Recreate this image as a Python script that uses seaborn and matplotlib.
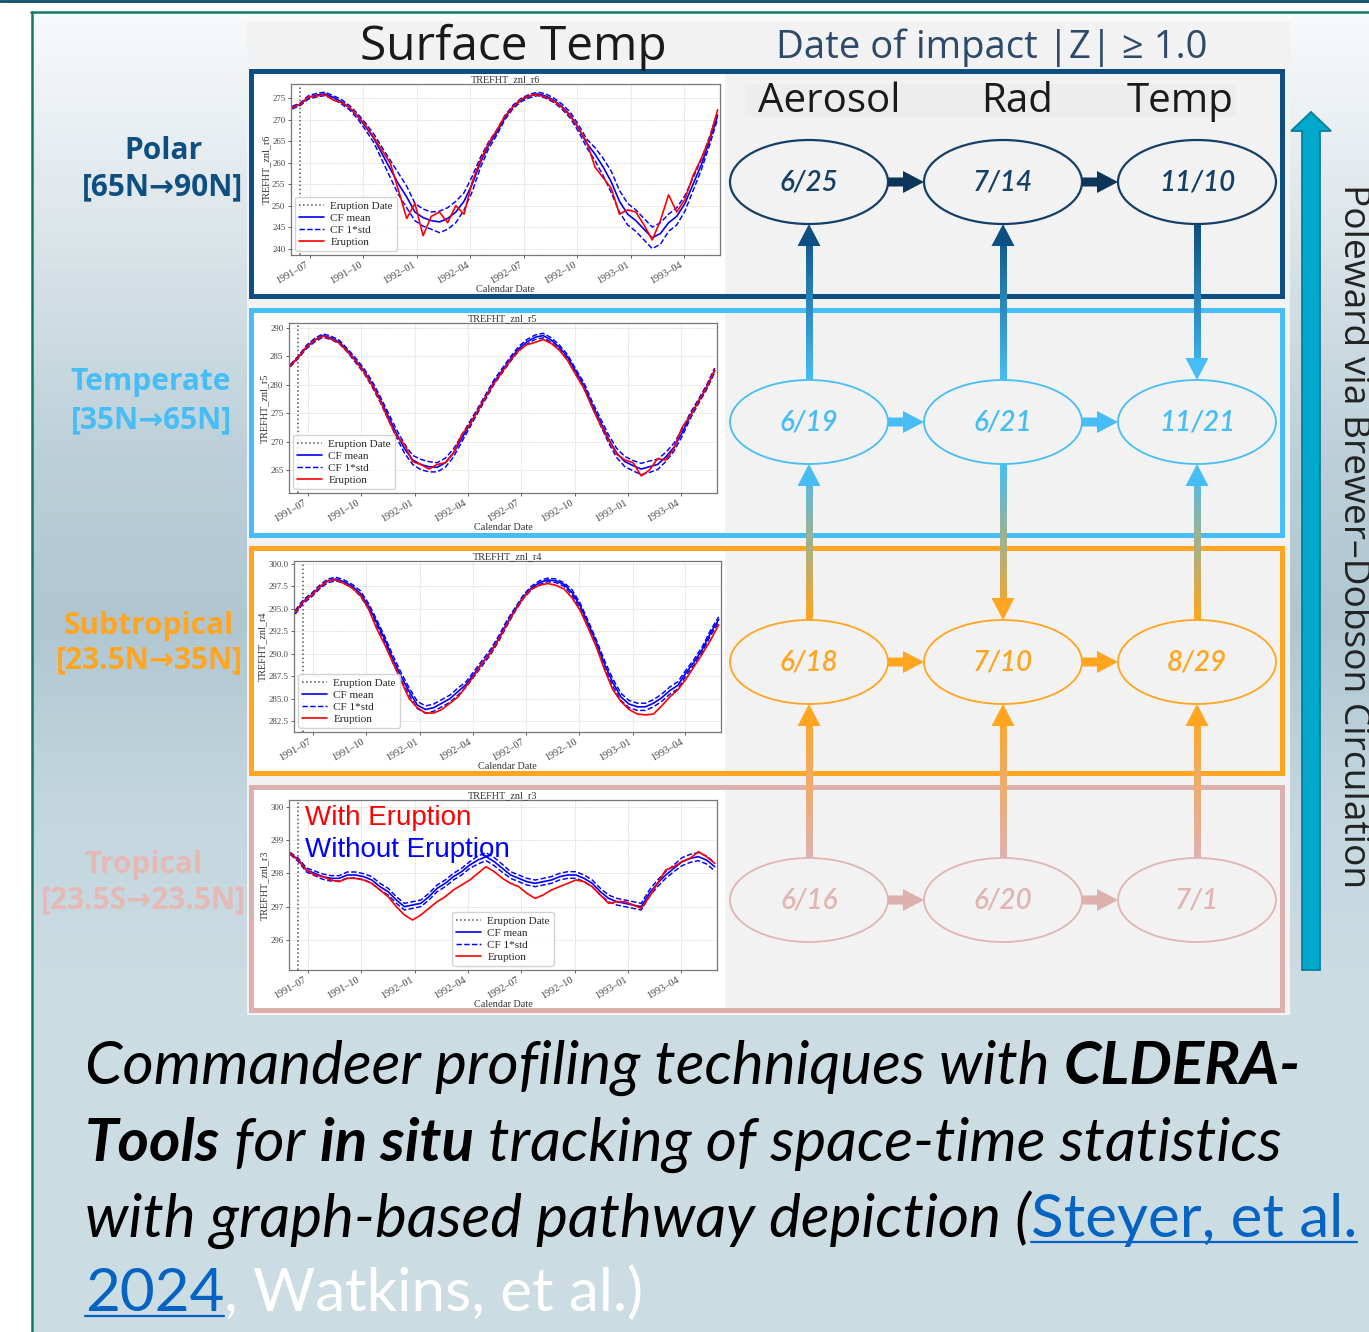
import numpy as np
import pandas as pd
import matplotlib
matplotlib.use("Agg")
import matplotlib.pyplot as plt
import matplotlib.dates as mdates
import matplotlib.ticker as mticker
from matplotlib.patches import Rectangle, Ellipse, Polygon
from matplotlib.colors import LinearSegmentedColormap, to_rgb
import seaborn as sns

# ---------------- data ----------------
sample_dates = pd.date_range("1991-06-01", periods=53, freq="14D")
eruption_date = pd.Timestamp("1991-06-15")
x_start, x_end = pd.Timestamp("1991-05-30"), pd.Timestamp("1993-06-02")

polar_mean = [272.8, 273.6, 275.2, 275.7, 276.0, 275.2, 274.2, 272.8, 270.8, 268.3,
              265.6, 262.0, 258.5, 255.0, 252.0, 248.5, 247.2, 246.5, 246.2, 247.0,
              248.5, 251.0, 255.0, 260.0, 264.0, 267.0, 270.5, 273.0, 274.6, 275.5,
              276.0, 275.5, 274.5, 273.0, 271.0, 268.0, 264.5, 262.0, 259.0, 255.5,
              251.0, 248.0, 246.5, 244.5, 242.5, 243.5, 246.0, 247.5, 250.5, 255.0,
              259.5, 265.0, 271.0]
polar_std = [0.3, 0.3, 0.4, 0.4, 0.4, 0.4, 0.5, 0.5, 0.6, 0.8,
             1.0, 1.5, 2.0, 2.5, 2.5, 2.0, 2.0, 2.0, 2.5, 2.5,
             2.5, 2.0, 1.8, 1.2, 0.8, 0.6, 0.5, 0.4, 0.4, 0.4,
             0.4, 0.5, 0.5, 0.6, 0.7, 0.8, 1.0, 1.5, 2.0, 2.5,
             2.5, 2.5, 2.5, 2.5, 2.5, 2.5, 2.0, 2.0, 1.8, 1.5,
             1.2, 1.0, 0.8]
polar_eru = [272.8, 273.6, 275.3, 275.5, 275.8, 274.6, 274.0, 272.8, 270.8, 268.6,
             265.8, 262.8, 259.8, 253.5, 247.0, 250.5, 243.0, 247.5, 248.5, 246.0,
             250.0, 248.0, 255.5, 260.5, 264.5, 267.5, 270.8, 273.0, 274.8, 275.6,
             275.8, 275.2, 274.3, 272.8, 270.8, 268.0, 264.8, 259.0, 256.5, 254.0,
             248.0, 249.0, 248.5, 245.5, 242.0, 246.5, 252.5, 248.5, 251.5, 257.0,
             261.0, 265.5, 272.3]

temp_mean = [283.3, 284.8, 286.6, 287.8, 288.6, 288.2, 287.5, 286.0, 284.3, 282.5,
             280.2, 277.5, 274.5, 271.5, 268.8, 266.8, 266.0, 265.6, 265.5, 266.3,
             268.0, 270.5, 273.0, 275.5, 278.0, 280.5, 282.5, 284.5, 286.3, 287.5,
             288.3, 288.6, 287.8, 286.5, 284.8, 282.3, 279.8, 276.5, 273.5, 270.5,
             268.0, 266.5, 265.8, 265.2, 265.6, 266.0, 267.3, 269.0, 271.5, 274.5,
             277.0, 279.5, 282.5]
temp_std = [0.2, 0.2, 0.3, 0.3, 0.3, 0.3, 0.3, 0.3, 0.4, 0.4,
            0.5, 0.5, 0.6, 0.7, 0.8, 0.8, 0.9, 0.9, 0.8, 0.8,
            0.7, 0.6, 0.5, 0.4, 0.4, 0.4, 0.4, 0.4, 0.4, 0.4,
            0.4, 0.4, 0.4, 0.4, 0.4, 0.4, 0.5, 0.5, 0.6, 0.7,
            0.8, 0.9, 0.9, 1.0, 1.0, 0.9, 0.8, 0.7, 0.6, 0.5,
            0.4, 0.4, 0.4]
temp_eru = [283.3, 284.8, 286.6, 287.8, 288.5, 288.0, 287.3, 285.8, 284.2, 282.3,
            280.0, 277.3, 274.0, 271.0, 269.5, 266.5, 266.0, 265.2, 266.0, 266.3,
            268.0, 271.2, 273.0, 275.5, 278.0, 280.3, 282.3, 284.3, 286.0, 287.0,
            287.4, 287.9, 287.2, 286.0, 284.2, 281.7, 279.3, 276.0, 273.0, 270.3,
            267.8, 266.8, 266.3, 264.0, 265.0, 267.0, 266.8, 268.8, 272.5, 274.5,
            277.0, 279.5, 282.5]

sub_mean = [294.6, 295.8, 296.5, 297.4, 298.1, 298.3, 298.0, 297.5, 296.7, 295.3,
            293.5, 291.6, 289.4, 287.5, 285.8, 284.3, 283.8, 284.0, 284.5, 285.0,
            285.8, 286.6, 287.8, 289.0, 290.2, 291.7, 293.4, 294.9, 296.3, 297.3,
            297.9, 298.2, 298.1, 297.7, 296.8, 295.3, 293.3, 291.2, 288.8, 286.8,
            285.2, 284.4, 284.1, 284.1, 284.5, 285.1, 285.9, 286.5, 287.9, 289.1,
            290.5, 292.3, 293.8]
sub_std = [0.2, 0.2, 0.2, 0.2, 0.2, 0.2, 0.2, 0.2, 0.3, 0.3,
           0.3, 0.3, 0.4, 0.4, 0.4, 0.4, 0.4, 0.4, 0.4, 0.4,
           0.4, 0.3, 0.3, 0.3, 0.3, 0.3, 0.3, 0.2, 0.2, 0.2,
           0.2, 0.2, 0.2, 0.2, 0.3, 0.3, 0.3, 0.3, 0.4, 0.4,
           0.4, 0.4, 0.4, 0.4, 0.4, 0.4, 0.4, 0.4, 0.3, 0.3,
           0.3, 0.3, 0.3]
sub_eru = [294.6, 295.8, 296.5, 297.4, 298.1, 298.2, 297.8, 297.3, 296.5, 295.0,
           292.8, 291.0, 289.0, 287.0, 285.0, 284.0, 283.4, 283.4, 283.8, 284.5,
           285.2, 286.4, 287.6, 289.0, 290.1, 291.6, 293.3, 294.8, 296.2, 297.2,
           297.6, 297.8, 297.6, 297.2, 296.2, 294.8, 292.8, 290.7, 288.2, 286.0,
           284.7, 283.8, 283.3, 283.2, 283.3, 284.2, 285.2, 286.0, 287.2, 288.6,
           290.0, 291.5, 293.2]

trop_mean = [298.6, 298.4, 298.1, 298.0, 297.9, 297.85, 297.85, 297.95, 297.95, 297.9,
             297.8, 297.6, 297.45, 297.2, 297.0, 297.05, 297.1, 297.3, 297.55, 297.7,
             297.9, 298.05, 298.25, 298.4, 298.5, 298.35, 298.15, 297.95, 297.85, 297.75,
             297.7, 297.75, 297.8, 297.9, 297.95, 297.95, 297.85, 297.7, 297.45, 297.25,
             297.15, 297.1, 297.05, 297.0, 297.4, 297.7, 297.95, 298.15, 298.35, 298.45,
             298.5, 298.4, 298.2]
trop_std = [0.03, 0.05, 0.06, 0.07, 0.08, 0.08, 0.08, 0.09, 0.09, 0.09,
            0.1, 0.1, 0.1, 0.1, 0.1, 0.1, 0.1, 0.1, 0.1, 0.1,
            0.1, 0.1, 0.1, 0.12, 0.12, 0.12, 0.12, 0.1, 0.1, 0.1,
            0.1, 0.1, 0.1, 0.1, 0.1, 0.1, 0.1, 0.1, 0.1, 0.1,
            0.1, 0.1, 0.1, 0.1, 0.1, 0.1, 0.1, 0.1, 0.12, 0.12,
            0.12, 0.12, 0.12]
trop_eru = [298.6, 298.4, 298.1, 297.95, 297.9, 297.8, 297.75, 297.85, 297.85, 297.8,
            297.7, 297.5, 297.3, 297.0, 296.75, 296.6, 296.75, 296.95, 297.15, 297.3,
            297.5, 297.65, 297.8, 298.0, 298.2, 298.05, 297.85, 297.7, 297.6, 297.4,
            297.25, 297.35, 297.5, 297.6, 297.7, 297.8, 297.75, 297.6, 297.35, 297.1,
            297.15, 297.15, 297.05, 296.95, 297.3, 297.7, 298.1, 298.2, 298.35, 298.45,
            298.65, 298.5, 298.3]

regions = ["Polar", "Temperate", "Subtropical", "Tropical"]
region_ranges = ["[65N→90N]", "[35N→65N]", "[23.5N→35N]", "[23.5S→23.5N]"]
chart_titles = ["TREFHT_znl_r6", "TREFHT_znl_r5", "TREFHT_znl_r4", "TREFHT_znl_r3"]
polar_yticks = [240, 245, 250, 255, 260, 265, 270, 275]
temp_yticks = [265, 270, 275, 280, 285, 290]
sub_yticks = [282.5, 285.0, 287.5, 290.0, 292.5, 295.0, 297.5, 300.0]
trop_yticks = [296, 297, 298, 299, 300]

stages = ["Aerosol", "Rad", "Temp"]
aerosol_dates = ["6/25", "6/19", "6/18", "6/16"]
rad_dates = ["7/14", "6/21", "7/10", "6/20"]
temp_dates = ["11/10", "11/21", "8/29", "7/1"]
# direction of the link between row r (upper) and row r+1 (lower), per stage
links = [["up", "up", "down"], ["up", "down", "up"], ["up", "up", "up"]]

# ---------------- style ----------------
sns.set_theme(style="white")
plt.rcParams["font.family"] = ["Liberation Serif", "DejaVu Serif"]
SANS = ["Open Sans", "DejaVu Sans"]
CAPF = ["Lato", "DejaVu Sans"]

W, H = 1369, 1332
fig = plt.figure(figsize=(W / 100, H / 100), dpi=100, facecolor="white")
deco = fig.add_axes([0, 0, 1, 1])
deco.set_axis_off()
deco.set_xlim(0, W)
deco.set_ylim(H, 0)
R = fig.canvas.get_renderer()


def measure(s, **kw):
    t = deco.text(0, 0, s, **kw)
    w = t.get_window_extent(renderer=R).width
    t.remove()
    return w


def run_width(s, **kw):
    return measure("|" + s + "|", **kw) - measure("||", **kw)


def fitted_size(s, target, base=30, **kw):
    return base * target / measure(s, fontsize=base, **kw)


# background
bg_cmap = LinearSegmentedColormap.from_list(
    "bg", [(0, "#f8fafb"), (0.14, "#e0e8ec"), (0.33, "#bdd0d9"), (0.46, "#afc6d1"),
           (0.6, "#c3d6de"), (0.75, "#ccdce3"), (1, "#ccdce3")])
deco.imshow(np.linspace(0, 1, 400).reshape(-1, 1), cmap=bg_cmap,
            extent=(32, W, H, 12), aspect="auto", zorder=0)
deco.plot([0, W], [1, 1], color="#0b4f6c", lw=2, zorder=1)
deco.plot([31, W], [12, 12], color="#127a62", lw=1.8, zorder=1)
deco.plot([32, 32], [12, H], color="#127a62", lw=1.8, zorder=1)

# central gray panel
deco.add_patch(Rectangle((247, 22), 1043, 993, fc="#f2f2f2", ec="none", zorder=1))
deco.add_patch(Rectangle((745, 84), 491, 33, fc="#ededed", ec="none", zorder=1))

box_colors = ["#0d4f80", "#47bdf5", "#ffa51f", "#dcb0ad"]
label_colors = ["#0d4f80", "#47bdf5", "#ffa51f", "#e6b9b5"]
node_colors = ["#143f66", "#47bdf5", "#ffa51f", "#e0b5b2"]
harrow_colors = ["#0d3559", "#47bdf5", "#ffa51f", "#dcb0ad"]
box_tops = [68, 307, 545, 784]
box_bots = [298, 537, 775, 1012]

for i in range(4):
    t, b = box_tops[i], box_bots[i]
    deco.add_patch(Rectangle((253, t + 3), 472, b - t - 6, fc="white", ec="none", zorder=2))
    deco.add_patch(Rectangle((250.5, t + 2.5), 1031, b - t - 5, fill=False,
                             ec=box_colors[i], lw=3.6, zorder=3))

# headers
deco.text(513, 60, "Surface Temp", family=SANS, color="#1a1a1a", ha="center",
          fontsize=fitted_size("Surface Temp", 307, family=SANS), va="baseline", zorder=5)
hdr = "Date of impact |Z| ≥ 1.0"
deco.text(992, 58, hdr, family=SANS, color="#2e4a68", ha="center", va="baseline",
          fontsize=fitted_size(hdr, 431, family=SANS), zorder=5)
stage_x = [829, 1017, 1180]
for s, x in zip(stages, stage_x):
    deco.text(x, 112, s, family=SANS, color="#1a1a1a", ha="center", va="baseline",
              fontsize=29, zorder=5)

# left region labels
lab_cx = [163, 151, 149, 143.5]
lab_b1 = [159, 390, 634, 873]
lab_b2 = [195, 428, 668, 908]
for i in range(4):
    deco.text(lab_cx[i], lab_b1[i], regions[i], family=SANS, weight="bold",
              color=label_colors[i], ha="center", va="baseline", fontsize=21.5, zorder=5)
    deco.text(lab_cx[i], lab_b2[i], region_ranges[i], family=SANS, weight="bold",
              color=label_colors[i], ha="center", va="baseline", fontsize=21.5, zorder=5)

# graph nodes
col_x = [809, 1003, 1197]
row_y = [182, 422, 662, 900]
EW, EH = 158, 84
node_labels = [aerosol_dates, rad_dates, temp_dates]
for r in range(4):
    for c in range(3):
        deco.add_patch(Ellipse((col_x[c], row_y[r]), EW, EH, fc="none",
                               ec=node_colors[r], lw=1.6 if r == 0 else 1.3, zorder=5))
        deco.text(col_x[c], row_y[r] + 9, node_labels[c][r], family=CAPF, style="italic",
                  weight="semibold", color=node_colors[r], ha="center", va="baseline",
                  fontsize=20, zorder=6)
    for c in range(2):
        xa = col_x[c] + EW / 2
        xb = col_x[c + 1] - EW / 2
        y = row_y[r]
        pts = [(xa, y - 4.5), (xb - 21, y - 4.5), (xb - 21, y - 11), (xb, y),
               (xb - 21, y + 11), (xb - 21, y + 4.5), (xa, y + 4.5)]
        deco.add_patch(Polygon(pts, closed=True, fc=harrow_colors[r], ec="none", zorder=5))

# vertical gradient links
grad_colors = ["#0d4f80", "#47bdf5", "#ffa51f", "#dfb2af"]
HEAD = 22


def grad_arrow(x, y_from, y_to, c_from, c_to):
    sign = 1 if y_to > y_from else -1
    y_end = y_to - sign * HEAD
    c0, c1 = np.array(to_rgb(c_from)), np.array(to_rgb(c_to))
    frac = np.linspace(0, (y_end - y_from) / (y_to - y_from), 128)
    img = (c0[None, :] + (c1 - c0)[None, :] * frac[:, None]).reshape(-1, 1, 3)
    deco.imshow(img, extent=(x - 3.5, x + 3.5, y_end, y_from), origin="upper",
                aspect="auto", interpolation="bilinear", zorder=4)
    deco.add_patch(Polygon([(x - 11.5, y_end), (x + 11.5, y_end), (x, y_to)],
                           closed=True, fc=c_to, ec="none", zorder=5))


for r in range(3):
    for c in range(3):
        top_edge = row_y[r] + EH / 2
        low_edge = row_y[r + 1] - EH / 2
        if links[r][c] == "up":
            grad_arrow(col_x[c], low_edge, top_edge, grad_colors[r + 1], grad_colors[r])
        else:
            grad_arrow(col_x[c], top_edge, low_edge, grad_colors[r], grad_colors[r + 1])

# big poleward arrow
deco.add_patch(Polygon([(1302, 970), (1320, 970), (1320, 131), (1331, 131), (1311, 112),
                        (1291, 131), (1302, 131)], closed=True, fc="#00a9cc",
                       ec="#0b7d99", lw=1.3, zorder=5))
rot_txt = "Poleward via Brewer–Dobson Circulation"
deco.text(1353, 536, rot_txt, family=SANS, color="#222222", rotation=270,
          ha="center", va="center", fontsize=fitted_size(rot_txt, 704, family=SANS), zorder=5)

# caption with mixed styles
BLUE = "#0563c1"
cap_lines = [
    [("Commandeer profiling techniques with ", "normal", "italic", "black", False),
     ("CLDERA-", "bold", "italic", "black", False)],
    [("Tools", "bold", "italic", "black", False), (" for ", "normal", "italic", "black", False),
     ("in situ", "bold", "italic", "black", False),
     (" tracking of space-time statistics", "normal", "italic", "black", False)],
    [("with graph-based pathway depiction (", "normal", "italic", "black", False),
     ("Steyer, et al.", "normal", "normal", BLUE, True)],
    [("2024", "normal", "normal", BLUE, True),
     (", Watkins, et al.)", "normal", "normal", "white", False)],
]
cap_base = [1084, 1161, 1237, 1311]
base_size = 40


def line_width(line, size):
    return sum(run_width(s, family=CAPF, weight=wt, style=st, fontsize=size)
               for s, wt, st, _, _ in line)


cap_size = min(base_size * 1243 / line_width(cap_lines[0], base_size),
               base_size * 1272 / line_width(cap_lines[2], base_size))
for line, yb in zip(cap_lines, cap_base):
    x = 85
    for s, wt, st, colr, ul in line:
        kw = dict(family=CAPF, weight=wt, style=st, fontsize=cap_size)
        deco.text(x, yb, s, color=colr, ha="left", va="baseline", zorder=5, **kw)
        w = run_width(s, **kw)
        if ul:
            deco.plot([x, x + w], [yb + 5, yb + 5], color=colr, lw=1.6, zorder=5)
        x += w

deco.set_xlim(0, W)
deco.set_ylim(H, 0)

# ---------------- the four seaborn time-series charts ----------------
chart_rects = [(291, 84, 720, 255), (289, 323, 717, 493), (294, 561, 721, 732), (289, 800, 717, 970)]
chart_means = [polar_mean, temp_mean, sub_mean, trop_mean]
chart_stds = [polar_std, temp_std, sub_std, trop_std]
chart_erus = [polar_eru, temp_eru, sub_eru, trop_eru]
chart_ylims = [(238.5, 278.3), (261.0, 290.8), (281.3, 300.3), (295.1, 300.2)]
chart_yticks = [polar_yticks, temp_yticks, sub_yticks, trop_yticks]
chart_yfmt = ["%d", "%d", "%.1f", "%d"]
chart_legloc = ["lower left", "lower left", "lower left", "lower center"]

date_fmt = mticker.FuncFormatter(lambda v, pos: mdates.num2date(v).strftime("%Y–%m"))

for i in range(4):
    l, t, r, b = chart_rects[i]
    ax = fig.add_axes([l / W, 1 - b / H, (r - l) / W, (b - t) / H])
    ax.set_facecolor("white")
    m = np.array(chart_means[i])
    sd = np.array(chart_stds[i])
    df = pd.DataFrame({"date": sample_dates, "mean": m, "upper": m + sd, "lower": m - sd,
                       "eru": chart_erus[i]})
    ax.axvline(eruption_date, color="#555555", ls=":", lw=1.1, label="Eruption Date")
    sns.lineplot(data=df, x="date", y="mean", color="blue", lw=1.2, ax=ax, label="CF mean")
    sns.lineplot(data=df, x="date", y="upper", color="blue", lw=1.05, ls="--", ax=ax,
                 label="CF 1*std")
    sns.lineplot(data=df, x="date", y="lower", color="blue", lw=1.05, ls="--", ax=ax,
                 label="_nolegend_")
    sns.lineplot(data=df, x="date", y="eru", color="red", lw=1.2, ax=ax, label="Eruption")
    ax.set_xlim(x_start, x_end)
    ax.set_ylim(*chart_ylims[i])
    ax.set_yticks(chart_yticks[i])
    ax.yaxis.set_major_formatter(mticker.FormatStrFormatter(chart_yfmt[i]))
    ax.xaxis.set_major_locator(mdates.MonthLocator(bymonth=[1, 4, 7, 10]))
    ax.xaxis.set_major_formatter(date_fmt)
    ax.tick_params(axis="both", colors="#444444", bottom=True, left=True,
                   length=2.5, width=0.6, pad=1.5)
    ax.tick_params(axis="y", labelsize=6.3)
    ax.tick_params(axis="x", labelsize=7.3, labelrotation=30)
    for lbl in ax.get_xticklabels():
        lbl.set_horizontalalignment("right")
    ax.grid(True, ls="--", lw=0.4, color="#cfcfcf")
    for sp in ax.spines.values():
        sp.set_color("#777777")
        sp.set_linewidth(0.9)
    ax.set_title(chart_titles[i], fontsize=7.3, color="#333333", pad=1.5)
    ax.set_ylabel(chart_titles[i], fontsize=7.3, color="#333333", labelpad=1)
    ax.set_xlabel("Calendar Date", fontsize=7.3, color="#333333", labelpad=-1)
    h, lab = ax.get_legend_handles_labels()
    ax.legend(h, lab, loc=chart_legloc[i], fontsize=8, frameon=True, framealpha=0.85,
              edgecolor="#cccccc", handlelength=2.2, borderpad=0.35, labelspacing=0.2,
              handletextpad=0.6, fancybox=True, borderaxespad=0.4)

# overlay annotation on the tropical chart
fig.text(305 / W, 1 - 825 / H, "With Eruption", color="red",
         family=["Liberation Sans", "DejaVu Sans"], fontsize=20, ha="left", va="baseline",
         zorder=10)
fig.text(305 / W, 1 - 857 / H, "Without Eruption", color="blue",
         family=["Liberation Sans", "DejaVu Sans"], fontsize=20, ha="left", va="baseline",
         zorder=10)

fig.savefig("out.png", dpi=100, facecolor="white")
